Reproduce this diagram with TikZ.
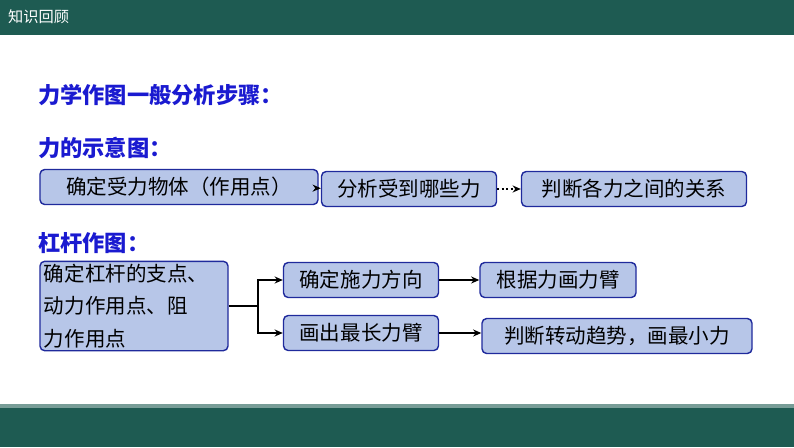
\documentclass[tikz,border=0pt]{standalone}
\usepackage{fontspec}
\setmainfont{Noto Sans CJK SC}
\newfontfamily\cjk{Noto Sans CJK SC}
\usetikzlibrary{arrows.meta, positioning}
\definecolor{barteal}{HTML}{1E5B52}
\definecolor{boxfill}{HTML}{B7C6E8}
\definecolor{boxline}{HTML}{1F2A9C}
\definecolor{titleblue}{HTML}{1A1AD0}

\begin{document}
\begin{tikzpicture}[
    x=0.03cm, y=-0.03cm,
    box/.style={
        rectangle,
        draw=boxline,
        line width=1.2pt,
        rounded corners=4pt,
        fill=boxfill,
        inner sep=2pt,
        minimum height=1.05cm,
        font=\cjk\fontsize{17.5}{20}\selectfont
    },
    title/.style={anchor=west, text=titleblue, font=\cjk\bfseries\fontsize{19}{22}\selectfont},
    arrow/.style={-{Stealth[length=7pt, width=6pt]}, line width=1.8pt}
]
\useasboundingbox (0,0) rectangle (794,447);
\fill[barteal] (0,0) rectangle (794,35);
\node[anchor=west, text=white, font=\cjk\fontsize{13}{15}\selectfont] (head) at (4,17) {知识回顾};
\fill[barteal] (0,404) rectangle (794,447);
\fill[barteal!60] (0,404) rectangle (794,408);

\node[title] (t0) at (34,95) {力学作图一般分析步骤：};
\node[title] (t1) at (34,148) {力的示意图：};
\node[title] (t2) at (34,243) {杠杆作图：};

% force diagram row
\node[box, minimum width=8.34cm] (force) at (179,187) {确定受力物体（作用点）};
\node[box, minimum width=5.25cm] (kinds) at (409,189) {分析受到哪些力};
\node[box, minimum width=6.75cm] (relate) at (634,189) {判断各力之间的关系};

\draw[arrow] (force) -- (kinds);
\draw[arrow, dotted] (kinds) -- (relate);

% lever row
\node[box, minimum width=5.64cm, minimum height=2.64cm, text width=5.4cm, align=left, font=\cjk\fontsize{17.5}{28}\selectfont] (lever) at (134,306) {确定杠杆的支点、\\动力作用点、阻\\力作用点};
\node[box, minimum width=4.65cm] (dir) at (361,280) {确定施力方向};
\node[box, minimum width=4.68cm] (arm) at (558,280) {根据力画力臂};
\node[box, minimum width=4.65cm] (longest) at (361,333) {画出最长力臂};
\node[box, minimum width=8.1cm] (least) at (617,336) {判断转动趋势，画最小力};

\coordinate (split) at (258,306);
\draw[line width=1.8pt] (lever.east) -- (split);
\draw[arrow] (split) |- (dir.west);
\draw[arrow] (split) |- (longest.west);
\draw[arrow] (dir) -- (arm);
\draw[arrow] (longest) -- (least.west |- longest.east);

\end{tikzpicture}
\end{document}
